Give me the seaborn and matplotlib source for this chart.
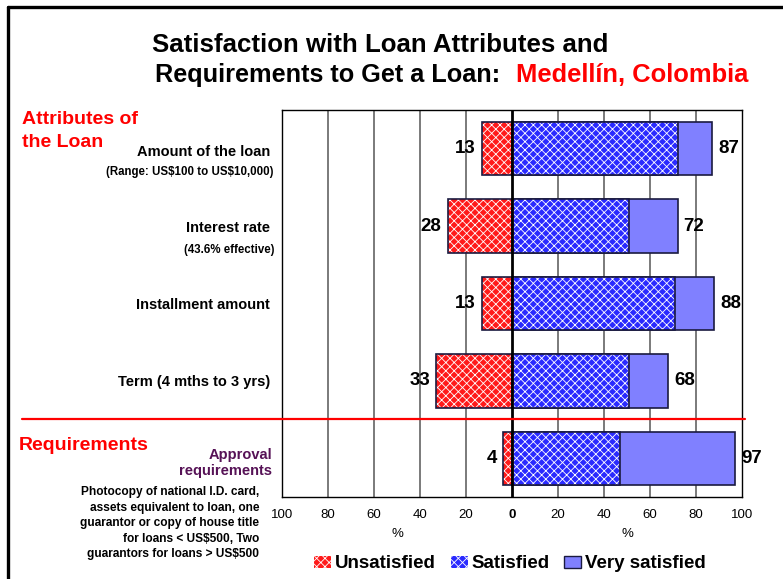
import numpy as np
import pandas as pd
import matplotlib
matplotlib.use("Agg")
import matplotlib.pyplot as plt
import seaborn as sns
from matplotlib.patches import Rectangle, Patch
from matplotlib.lines import Line2D

# ---------------- data ----------------
categories = ["Amount of the loan", "Interest rate", "Installment amount",
              "Term (4 mths to 3 yrs)", "Approval requirements"]
unsatisfied = [13, 28, 13, 33, 4]
satisfied = [72, 51, 71, 51, 47]
very_satisfied = [15, 21, 17, 17, 50]
tick_values = [-100, -80, -60, -40, -20, 0, 20, 40, 60, 80, 100]
tick_labels = ["100", "80", "60", "40", "20", "0", "20", "40", "60", "80", "100"]
legend_labels = ["Unsatisfied", "Satisfied", "Very satisfied"]

# ---------------- style ----------------
sns.set_theme(style="white")
plt.rcParams["font.family"] = ["Liberation Sans", "DejaVu Sans"]
plt.rcParams["hatch.linewidth"] = 0.6
plt.rcParams["text.parse_math"] = False
plt.rcParams["text.color"] = "black"
plt.rcParams["xtick.color"] = "black"
plt.rcParams["axes.labelcolor"] = "black"

W, H = 783, 579
def fx(px): return px / W
def fy(py): return 1 - py / H

RED = "#ff1a1a"
BLUE = "#2a2aff"
LIGHT = "#8080ff"
EDGE = "#1a1a40"

fig = plt.figure(figsize=(W / 100, H / 100), dpi=100)
ax = fig.add_axes([fx(282), fy(497), (742 - 282) / W, (497 - 110) / H])

df = pd.DataFrame({"cat": categories, "unsat": unsatisfied,
                   "sat": satisfied, "very": very_satisfied})
df["neg_unsat"] = -df["unsat"]
df["total"] = df["sat"] + df["very"]

bw = 0.69
sns.barplot(data=df, x="total", y="cat", orient="h", color=LIGHT, saturation=1,
            width=bw, ax=ax, edgecolor=EDGE, linewidth=1.2, zorder=3)
n = len(ax.patches)
sns.barplot(data=df, x="sat", y="cat", orient="h", color=BLUE, saturation=1,
            width=bw, ax=ax, zorder=3)
sns.barplot(data=df, x="neg_unsat", y="cat", orient="h", color=RED, saturation=1,
            width=bw, ax=ax, zorder=3)
patches = list(ax.patches)
for p in patches[n:]:
    p.set_edgecolor("white")
    p.set_hatch("xxxx")
    p.set_linewidth(0)
    ax.add_patch(Rectangle((p.get_x(), p.get_y()), p.get_width(), p.get_height(),
                           fill=False, edgecolor=EDGE, linewidth=1.2, zorder=4))

ax.set_xlim(-100, 100)
ax.set_ylim(4.5, -0.5)
ax.set_xticks(tick_values, tick_labels)
ax.set_yticks([])
ax.set_xlabel("")
ax.set_ylabel("")
ax.tick_params(axis="x", length=0, pad=9, labelsize=9.5, colors="black")
for lbl in ax.get_xticklabels():
    if lbl.get_text() == "0":
        lbl.set_fontweight("bold")
for v in tick_values[1:-1]:
    if v != 0:
        ax.axvline(v, color="#707070", linewidth=1.3, zorder=1)
ax.axvline(0, color="black", linewidth=2, zorder=6)
for s in ax.spines.values():
    s.set_color("black")
    s.set_linewidth(1)

# value labels
for i in range(len(categories)):
    ax.text(-unsatisfied[i] - 2.6, i, str(unsatisfied[i]), ha="right", va="center",
            fontsize=13.5, fontweight="bold", color="black", zorder=7)
    tot = satisfied[i] + very_satisfied[i]
    ax.text(tot + 2.6, i, str(tot), ha="left", va="center",
            fontsize=13.5, fontweight="bold", color="black", zorder=7)

# % labels
fig.text(fx(397), fy(534), "%", ha="center", va="center", fontsize=9.5)
fig.text(fx(627), fy(534), "%", ha="center", va="center", fontsize=9.5)

# title
fig.text(fx(152), fy(45), "Satisfaction with Loan Attributes and", ha="left",
         va="center", fontsize=18.6, fontweight="bold")
fig.text(fx(155), fy(75), "Requirements to Get a Loan:", ha="left",
         va="center", fontsize=18.2, fontweight="bold")
fig.text(fx(516), fy(75), "Medellín, Colombia", ha="left",
         va="center", fontsize=18.4, fontweight="bold", color="#ff0000")

# section headings
fig.text(fx(22), fy(119), "Attributes of", ha="left", va="center",
         fontsize=14, fontweight="bold", color="#ff0000")
fig.text(fx(22), fy(142), "the Loan", ha="left", va="center",
         fontsize=14, fontweight="bold", color="#ff0000")
fig.text(fx(19), fy(446), "Requirements", ha="left", va="center",
         fontsize=14, fontweight="bold", color="#ff0000")

# category labels
fig.text(fx(270), fy(152), "Amount of the loan", ha="right", va="center",
         fontsize=10.5, fontweight="bold")
fig.text(fx(273), fy(172), "(Range: US$100 to US$10,000)", ha="right", va="center",
         fontsize=8.3, fontweight="bold")
fig.text(fx(270), fy(228), "Interest rate", ha="right", va="center",
         fontsize=10.5, fontweight="bold")
fig.text(fx(275), fy(250), "(43.6% effective)", ha="right", va="center",
         fontsize=8.3, fontweight="bold")
fig.text(fx(270), fy(305), "Installment amount", ha="right", va="center",
         fontsize=10.5, fontweight="bold")
fig.text(fx(270), fy(382), "Term (4 mths to 3 yrs)", ha="right", va="center",
         fontsize=10.5, fontweight="bold")
fig.text(fx(272), fy(455), "Approval", ha="right", va="center",
         fontsize=10.5, fontweight="bold", color="#561256")
fig.text(fx(272), fy(471), "requirements", ha="right", va="center",
         fontsize=10.5, fontweight="bold", color="#561256")
req_lines = ["Photocopy of national I.D. card,",
             "assets equivalent to loan, one",
             "guarantor or copy of house title",
             "for loans < US$500, Two",
             "guarantors for loans > US$500"]
for k, line in enumerate(req_lines):
    fig.text(fx(259), fy(492 + k * 15.6), line, ha="right", va="center",
             fontsize=8.6, fontweight="bold")

# red separator
fig.add_artist(Line2D([fx(22), fx(745)], [fy(419), fy(419)], color="#ff0000",
                      linewidth=1.6, transform=fig.transFigure, zorder=10))
# frame border (top and left)
fig.add_artist(Line2D([fx(8), fx(783)], [fy(7), fy(7)], color="black",
                      linewidth=2.4, transform=fig.transFigure))
fig.add_artist(Line2D([fx(8), fx(8)], [fy(7), fy(579)], color="black",
                      linewidth=2.4, transform=fig.transFigure))

# legend
handles = [Patch(facecolor=RED, edgecolor="white", hatch="xxxx", linewidth=0),
           Patch(facecolor=BLUE, edgecolor="white", hatch="xxxx", linewidth=0),
           Patch(facecolor=LIGHT, edgecolor=EDGE, linewidth=1)]
fig.legend(handles, legend_labels, loc="center", bbox_to_anchor=(fx(510), fy(564)),
           ncol=3, frameon=False, prop=dict(weight="bold", size=13.5),
           handlelength=0.9, handleheight=0.6, handletextpad=0.2,
           columnspacing=0.8, borderpad=0)

fig.savefig("out.png", dpi=100)
